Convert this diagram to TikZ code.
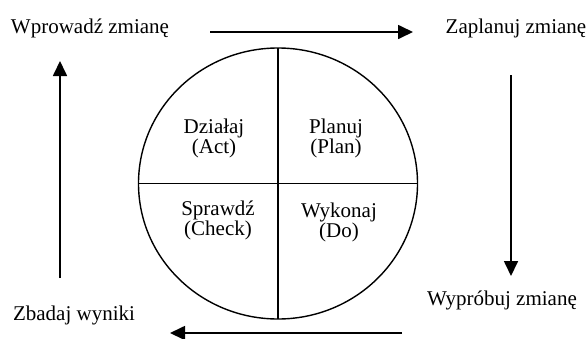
\documentclass[tikz,border=0pt]{standalone}
\usepackage{fontspec}
\setmainfont{Liberation Serif}
\usetikzlibrary{arrows.meta}

\begin{document}
\begin{tikzpicture}[x=1pt,y=-1pt,
  lbl/.style={font=\fontsize{21}{20}\selectfont, inner sep=0pt},
  quad/.style={lbl, align=center},
  cyc/.style={line width=1.7pt, -{Triangle[length=15pt,width=14pt]}}]
\useasboundingbox (0,0) rectangle (588,338);
% circle with quarters
\draw[line width=1.4pt] (278,183.5) ellipse (139.5 and 135.5);
\draw[line width=1.4pt] (278,48) -- (278,319);
\draw[line width=1.4pt] (138.5,183.5) -- (417.5,183.5);
\node[quad] (act) at (214,138) {Działaj\\(Act)};
\node[quad] (plan) at (336,138) {Planuj\\(Plan)};
\node[quad] (check) at (218,220) {Sprawdź\\(Check)};
\node[quad] (do) at (339,222) {Wykonaj\\(Do)};
% steps round the circle
\node[lbl, anchor=base] (wpr) at (90,33) {Wprowadź zmianę};
\node[lbl, anchor=base] (zap) at (516,33) {Zaplanuj zmianę};
\node[lbl, anchor=base] (wyp) at (502,305) {Wypróbuj zmianę};
\node[lbl, anchor=base] (zba) at (74,320) {Zbadaj wyniki};
\coordinate (t1) at (210,32);  \coordinate (t2) at (413,32);
\coordinate (r1) at (511,75);  \coordinate (r2) at (511,276);
\coordinate (b1) at (402,333); \coordinate (b2) at (170,333);
\coordinate (l1) at (60,278);  \coordinate (l2) at (60,61);
\draw[cyc] (t1) -- (t2);
\draw[cyc] (r1) -- (r2);
\draw[cyc] (b1) -- (b2);
\draw[cyc] (l1) -- (l2);
\end{tikzpicture}
\end{document}
